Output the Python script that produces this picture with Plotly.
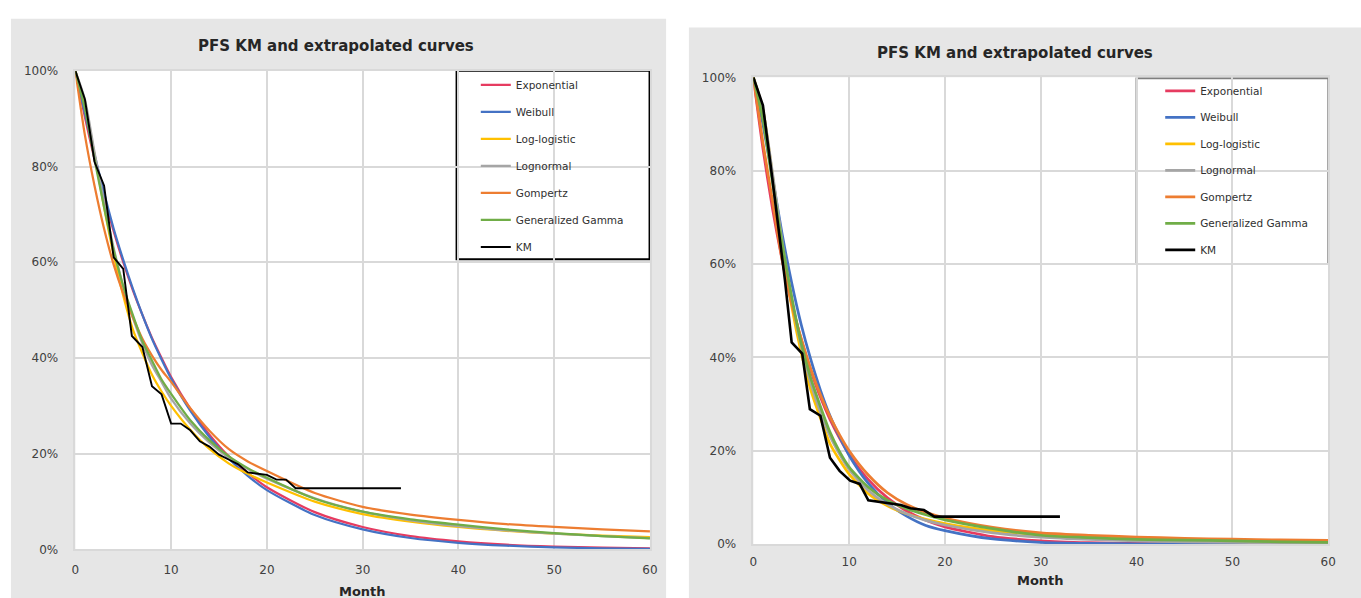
import plotly.graph_objects as go

# ---------------- data ----------------
T_FIT = [0, 1, 2, 3, 4, 5, 6, 7, 8, 9, 10, 12, 14, 16, 18, 20, 25, 30, 35, 40, 45, 50, 55, 60]

SERIES = ["Exponential", "Weibull", "Log-logistic", "Lognormal", "Gompertz", "Generalized Gamma"]
COLORS = ["#E63B60", "#4472C4", "#FFC000", "#A5A5A5", "#ED7D31", "#70AD47"]

# left panel
L_EXP = [100, 90.3, 81.5, 73.6, 66.5, 60, 54.2, 49, 44.2, 40, 36, 29.4, 24, 19.5, 16, 13, 7.8, 4.7, 2.8, 1.7, 1.0, 0.6, 0.37, 0.22]
L_WEI = [100, 91, 82.5, 74.5, 67, 60.5, 54.5, 49, 44, 39.7, 35.7, 29, 23.5, 19, 15.4, 12.4, 7.2, 4.2, 2.4, 1.4, 0.8, 0.45, 0.25, 0.14]
L_LLOG = [100, 93, 82.5, 71.5, 61.5, 53, 46, 41, 36.5, 33, 30, 25, 21, 18, 15.8, 14, 10, 7.4, 5.8, 4.7, 3.9, 3.3, 2.9, 2.6]
L_LNORM = [100, 94, 83, 72.5, 63, 55, 48.5, 43, 38.5, 35, 31.5, 26.3, 22.3, 19.2, 16.8, 14.8, 10.7, 7.9, 6.1, 4.9, 4.0, 3.3, 2.8, 2.4]
L_GOMP = [100, 86.5, 76, 67, 59.5, 53.5, 48.5, 44, 40.5, 37.5, 35, 29.5, 24.8, 21, 18.4, 16.4, 11.8, 8.9, 7.3, 6.2, 5.3, 4.7, 4.2, 3.8]
L_GG = [100, 92, 81.5, 71.5, 62.5, 55, 49, 43.5, 39.5, 35.5, 32.5, 27, 22.8, 19.5, 17, 15, 10.6, 7.9, 6.3, 5.2, 4.2, 3.4, 2.8, 2.3]
L_KM_T = [0, 1, 2, 3, 4, 5, 5.9, 7, 8, 9, 10, 11, 12, 13, 14, 15, 16, 17, 18, 19, 20, 21, 22, 23, 34]
L_KM_S = [100, 94, 81, 76, 61, 58.6, 44.6, 42.3, 34.1, 32.4, 26.3, 26.3, 24.9, 22.6, 21.5, 19.8, 18.8, 17.8, 16.1, 15.9, 15.6, 14.6, 14.6, 12.8, 12.8]

# right panel
R_EXP = [100, 84.8, 71.9, 61, 51.7, 43.8, 37.2, 31.5, 26.7, 22.7, 19.2, 13.8, 9.9, 7.1, 5.1, 3.7, 1.6, 0.7, 0.3, 0.14, 0.06, 0.03, 0.01, 0.0]
R_WEI = [100, 90, 78.5, 66.5, 56, 47, 39.5, 33, 27.5, 23, 19, 13, 8.8, 6, 4, 2.9, 1.1, 0.4, 0.15, 0.05, 0.02, 0.01, 0, 0]
R_LLOG = [100, 93, 79, 64, 51, 41, 33, 27, 21.5, 18, 15, 10.8, 8.2, 6.5, 5.3, 4.4, 2.9, 2.0, 1.5, 1.15, 0.9, 0.75, 0.6, 0.5]
R_LNORM = [100, 93, 79.5, 65, 52.5, 42.5, 34.5, 28.3, 23.2, 19.3, 16, 11.5, 8.5, 6.5, 5.1, 4.1, 2.4, 1.5, 1.0, 0.7, 0.5, 0.35, 0.28, 0.2]
R_GOMP = [100, 86, 73.5, 61, 51.5, 44, 37.5, 32, 27.3, 23.4, 20, 14.8, 11, 8.5, 6.8, 5.6, 3.6, 2.4, 1.9, 1.5, 1.25, 1.05, 0.9, 0.8]
R_GG = [100, 91, 77.5, 64.5, 53, 43, 35.5, 29.5, 24, 19.8, 16.5, 12.2, 9.4, 7.6, 6.3, 5.2, 3.3, 1.9, 1.4, 1.0, 0.85, 0.7, 0.5, 0.35]
R_KM_T = [0, 1, 2, 3, 3.3, 4, 5.1, 5.9, 7, 8, 9, 10.1, 11.1, 12, 13, 14.4, 15.4, 16.4, 17.8, 18.9, 32]
R_KM_S = [100, 94, 78, 62, 56.5, 43.2, 40.8, 28.9, 27.5, 18.5, 15.7, 13.6, 12.9, 9.4, 9.1, 8.7, 8.4, 7.7, 7.3, 5.9, 5.9]

TITLE = "PFS KM and extrapolated curves"
X_TITLE = "Month"
X_TICKS = [0, 10, 20, 30, 40, 50, 60]
Y_TICKS = [0, 20, 40, 60, 80, 100]
Y_TICKTEXT = ["0%", "20%", "40%", "60%", "80%", "100%"]

# ---------------- figure ----------------
W, H = 1361, 598
FONT = "DejaVu Sans"


def px(x):
    return x / W


def py(y):
    return 1 - y / H


fig = go.Figure()

panels = [
    dict(xa="x", ya="y", leg="legend", fits=[L_EXP, L_WEI, L_LLOG, L_LNORM, L_GOMP, L_GG],
         kt=L_KM_T, ks=L_KM_S, lw=2.25, kw=1.9, tag="L"),
    dict(xa="x2", ya="y2", leg="legend2", fits=[R_EXP, R_WEI, R_LLOG, R_LNORM, R_GOMP, R_GG],
         kt=R_KM_T, ks=R_KM_S, lw=2.75, kw=2.6, tag="R"),
]

for p in panels:
    for name, col, vals in zip(SERIES, COLORS, p["fits"]):
        fig.add_trace(go.Scatter(
            x=T_FIT, y=vals, mode="lines", name=name,
            line=dict(color=col, width=p["lw"], shape="spline", smoothing=0.7),
            xaxis=p["xa"], yaxis=p["ya"], legend=p["leg"],
            legendgroup=p["tag"] + name, hoverinfo="skip"))
    fig.add_trace(go.Scatter(
        x=p["kt"], y=p["ks"], mode="lines", name="KM",
        line=dict(color="#000000", width=p["kw"]),
        xaxis=p["xa"], yaxis=p["ya"], legend=p["leg"],
        legendgroup=p["tag"] + "KM", hoverinfo="skip"))

# plot-area pixel geometry
L_AREA = dict(x0=72, x1=651.7, y0=65.3, y1=555.5)
R_AREA = dict(x0=756, x1=1336, y0=72, y1=550)

grid = "#D9D9D9"
tickfont = dict(family=FONT, size=12, color="#404040")


def xaxis_cfg(area, anchor, ticklen):
    return dict(domain=[px(area["x0"]), px(area["x1"])], anchor=anchor, range=[0, 60],
                tickvals=X_TICKS, showgrid=True, gridcolor=grid, gridwidth=1.5,
                zeroline=False, showline=True, mirror=True, linecolor=grid, linewidth=1.5,
                ticks="outside", ticklen=ticklen, tickcolor="rgba(0,0,0,0)",
                tickfont=tickfont, fixedrange=True)


def yaxis_cfg(area, anchor, ticklen):
    return dict(domain=[py(area["y1"]), py(area["y0"])], anchor=anchor, range=[0, 100],
                tickvals=Y_TICKS, ticktext=Y_TICKTEXT, showgrid=True, gridcolor=grid, gridwidth=1.5,
                zeroline=False, showline=True, mirror=True, linecolor=grid, linewidth=1.5,
                ticks="outside", ticklen=ticklen, tickcolor="rgba(0,0,0,0)",
                tickfont=tickfont, fixedrange=True)


shapes = [
    # grey chart panels
    dict(type="rect", xref="paper", yref="paper", x0=px(7), x1=px(668), y0=-0.02, y1=py(12),
         fillcolor="#E6E6E6", line=dict(width=0), layer="below"),
    dict(type="rect", xref="paper", yref="paper", x0=px(691), x1=1.01, y0=-0.02, y1=py(21),
         fillcolor="#E6E6E6", line=dict(width=0), layer="below"),
    # white plot areas
    dict(type="rect", xref="paper", yref="paper", x0=px(L_AREA["x0"]), x1=px(L_AREA["x1"]),
         y0=py(L_AREA["y1"]), y1=py(L_AREA["y0"]), fillcolor="white", line=dict(width=0), layer="below"),
    dict(type="rect", xref="paper", yref="paper", x0=px(R_AREA["x0"]), x1=px(R_AREA["x1"]),
         y0=py(R_AREA["y1"]), y1=py(R_AREA["y0"]), fillcolor="white", line=dict(width=0), layer="below"),
    # legend boxes
    dict(type="rect", xref="paper", yref="paper", x0=px(456.5), x1=px(651.2), y0=py(258.3), y1=py(65.5),
         fillcolor="white", line=dict(color="#000000", width=1.8), layer="between"),
    dict(type="rect", xref="paper", yref="paper", x0=px(1142.5), x1=px(1336), y0=py(263.3), y1=py(73),
         fillcolor="white", line=dict(color="#7F7F7F", width=1.8), layer="between"),
]

title_font = dict(family=FONT, size=15, color="#262626", weight="bold")
xt_font = dict(family=FONT, size=13, color="#262626", weight="bold")
annotations = [
    dict(text=TITLE, xref="paper", yref="paper", x=px(334.5), y=py(40), xanchor="center",
         yanchor="middle", showarrow=False, font=title_font),
    dict(text=TITLE, xref="paper", yref="paper", x=px(1019.7), y=py(46.7), xanchor="center",
         yanchor="middle", showarrow=False, font=title_font),
    dict(text=X_TITLE, xref="paper", yref="paper", x=px(362), y=py(588.5), xanchor="center",
         yanchor="top", showarrow=False, font=xt_font),
    dict(text=X_TITLE, xref="paper", yref="paper", x=px(1046), y=py(587.5), xanchor="center",
         yanchor="middle", showarrow=False, font=xt_font),
]

leg_font = dict(family=FONT, size=10.5, color="#303030")
legend_common = dict(bgcolor="rgba(0,0,0,0)", borderwidth=0, font=leg_font,
                     traceorder="grouped", xanchor="left", yanchor="top",
                     itemclick=False, itemdoubleclick=False)

fig.update_layout(
    width=W, height=H, margin=dict(l=0, r=0, t=0, b=0),
    paper_bgcolor="white", plot_bgcolor="white",
    xaxis=xaxis_cfg(L_AREA, "y", 8),
    yaxis=yaxis_cfg(L_AREA, "x", 13),
    xaxis2=xaxis_cfg(R_AREA, "y2", 6),
    yaxis2=yaxis_cfg(R_AREA, "x2", 13),
    shapes=shapes, annotations=annotations,
    legend=dict(x=px(476), y=py(65), tracegroupgap=8, **legend_common),
    legend2=dict(x=px(1166.5), y=py(71), tracegroupgap=7.5, **legend_common),
    showlegend=True,
)

fig.write_html("out.html")
